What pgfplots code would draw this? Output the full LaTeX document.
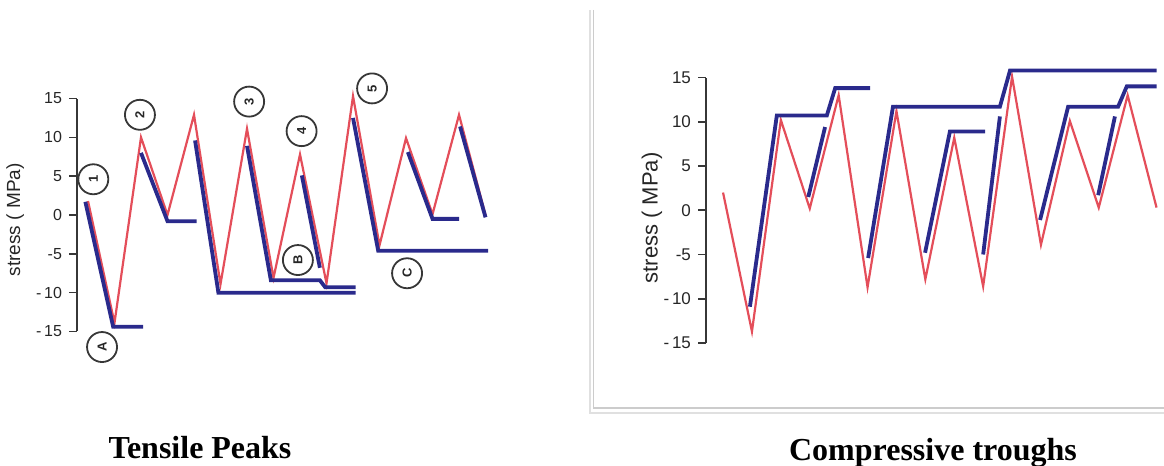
\documentclass[border=0pt]{standalone}
\usepackage{fontspec}
\setmainfont{Liberation Sans}
\newfontfamily\titlefont{Liberation Serif}
\usepackage{pgfplots}
\pgfplotsset{compat=1.18}
\definecolor{redline}{RGB}{228,78,90}
\definecolor{blueline}{RGB}{42,42,140}
\definecolor{axisgray}{RGB}{55,55,55}

\pgfplotsset{
  rainflow/.style={
    scale only axis,
    clip=false,
    axis x line=none,
    axis y line=left,
    axis line style={-, axisgray, line width=0.8pt},
    ymin=-15, ymax=15,
    ytick={-15,-10,-5,0,5,10,15},
    yticklabels={{-\,15},{-\,10},{-5},{0},{5},{10},{15}},
    tick align=outside,
    major tick length=4pt,
    ytick style={axisgray, line width=0.8pt},
    yticklabel style={text=black!85},
  },
}
\tikzset{
  circlab/.style={circle, draw=axisgray, line width=0.9pt, minimum size=15pt, inner sep=0pt,
    font=\bfseries\fontsize{6.5}{7}\selectfont, text=black!85, rotate=90},
}

\begin{document}
\begin{tikzpicture}
\path[use as bounding box] (0,0) rectangle (582pt,233pt);

% frame of right panel
\draw[black!12, line width=1.2pt] (295pt,228pt) -- (295pt,26.5pt) -- (582pt,26.5pt);
\draw[black!20, line width=0.8pt] (296.8pt,228pt) -- (296.8pt,29pt) -- (582pt,29pt);

% ---------------- Left: Tensile Peaks ----------------
\begin{axis}[rainflow,
  at={(38.5pt,67.25pt)}, anchor=south west,
  width=206.25pt, height=116.5pt,
  xmin=-0.415, xmax=15.15,
  yticklabel style={font=\fontsize{8}{9}\selectfont},
  ylabel={stress ( MPa)},
  every axis y label/.style={at={(axis description cs:-0.150,0.479)}, rotate=90, anchor=center, font=\fontsize{9.5}{11}\selectfont, text=black!85},
]
\addplot[redline, line width=1.1pt] coordinates {
(0,1.8) (1,-13.9) (2,10) (3,0) (4,12.9) (5,-8.9) (6,11.1) (7,-8.1) (8,7.8) (9,-8.8) (10,15.3) (11,-3.9) (12,9.9) (13,0.1) (14,12.9) (15,0)
};
\addplot[blueline, line width=1.9pt] coordinates {(-0.1,1.7) (0.95,-14.4) (2.08,-14.4)};
\addplot[blueline, line width=1.9pt] coordinates {(2.0,8.0) (3.0,-0.8) (4.1,-0.8)};
\addplot[blueline, line width=1.9pt] coordinates {(4.04,9.6) (4.92,-10.0) (10.1,-10.0)};
\addplot[blueline, line width=1.9pt] coordinates {(6.0,8.9) (6.9,-8.4) (8.75,-8.4) (8.95,-9.3) (10.1,-9.3)};
\addplot[blueline, line width=1.9pt] coordinates {(8.07,5.1) (8.75,-6.8)};
\addplot[blueline, line width=1.9pt] coordinates {(10.0,12.5) (10.95,-4.6) (15.1,-4.6)};
\addplot[blueline, line width=1.9pt] coordinates {(12.07,8.1) (13.0,-0.5) (14.0,-0.5)};
\addplot[blueline, line width=1.9pt] coordinates {(14.04,11.4) (15.0,-0.3)};
\node[circlab] at (axis cs:0.2,4.6) {1};
\node[circlab] at (axis cs:1.96,12.9) {2};
\node[circlab] at (axis cs:6.08,14.6) {3};
\node[circlab] at (axis cs:8.06,10.8) {4};
\node[circlab] at (axis cs:10.72,16.3) {5};
\node[circlab] at (axis cs:0.53,-17.0) {A};
\node[circlab] at (axis cs:7.92,-5.8) {B};
\node[circlab] at (axis cs:12.04,-7.5) {C};
\end{axis}

% ---------------- Right: Compressive troughs ----------------
\begin{axis}[rainflow,
  at={(353pt,61.5pt)}, anchor=south west,
  width=226pt, height=132.75pt,
  xmin=-0.59, xmax=15.05,
  yticklabel style={font=\fontsize{8.5}{10}\selectfont},
  ylabel={stress ( MPa)},
  every axis y label/.style={at={(axis description cs:-0.1195,0.471)}, rotate=90, anchor=center, font=\fontsize{11}{13}\selectfont, text=black!85},
]
\addplot[redline, line width=1.1pt] coordinates {
(0,2.0) (1,-13.7) (2,10.2) (3,0.2) (4,13.0) (5,-8.7) (6,11.2) (7,-7.8) (8,8.2) (9,-8.6) (10,15.1) (11,-3.9) (12,10.1) (13,0.3) (14,13.0) (15,0.3)
};
\addplot[blueline, line width=1.9pt] coordinates {(0.93,-10.9) (1.86,10.7) (3.59,10.7) (3.88,13.8) (5.09,13.8)};
\addplot[blueline, line width=1.9pt] coordinates {(2.95,1.5) (3.53,9.4)};
\addplot[blueline, line width=1.9pt] coordinates {(5.02,-5.4) (5.88,11.7) (9.58,11.7) (9.93,15.8) (15.0,15.8)};
\addplot[blueline, line width=1.9pt] coordinates {(6.99,-4.8) (7.85,8.9) (9.07,8.9)};
\addplot[blueline, line width=1.9pt] coordinates {(9.0,-5.0) (9.58,10.6)};
\addplot[blueline, line width=1.9pt] coordinates {(10.97,-1.1) (11.94,11.7) (13.67,11.7) (13.97,14.0) (15.0,14.0)};
\addplot[blueline, line width=1.9pt] coordinates {(12.98,1.7) (13.56,10.6)};
\end{axis}

% captions
\node[font=\titlefont\bfseries\fontsize{16}{18}\selectfont, anchor=base] at (100pt,3.6pt) {Tensile Peaks};
\node[font=\titlefont\bfseries\fontsize{16}{18}\selectfont, anchor=base] at (466.5pt,2.6pt) {Compressive troughs};
\end{tikzpicture}
\end{document}
